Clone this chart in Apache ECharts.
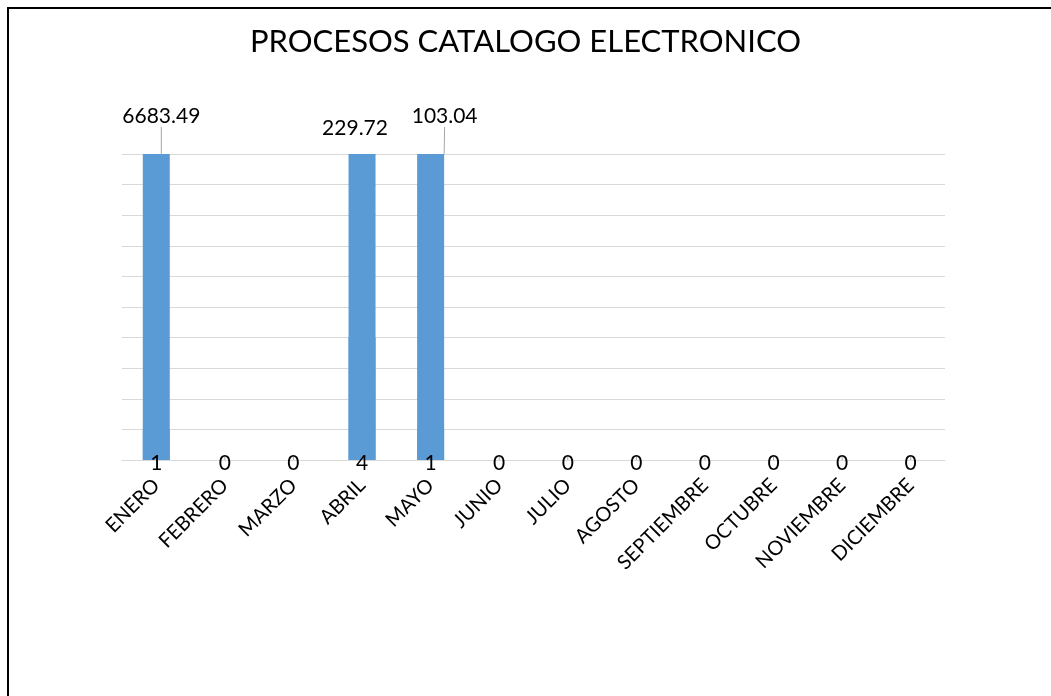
<!DOCTYPE html>
<html>
<head>
<meta charset="utf-8">
<script src="https://cdn.jsdelivr.net/npm/echarts@6/dist/echarts.min.js"></script>
<style>
    html, body { margin: 0; padding: 0; background: #fff; }
    #main { width: 1051px; height: 696px; }
    #frame { position: absolute; left: 7px; top: 7px; width: 1100px; height: 760px;
        border-top: 2px solid #000; border-left: 2px solid #000; pointer-events: none; }
</style>
</head>
<body>
<div id="main"></div>
<div id="frame"></div>
<script>
// meses
var meses = ['ENERO', 'FEBRERO', 'MARZO', 'ABRIL', 'MAYO', 'JUNIO', 'JULIO', 'AGOSTO',
    'SEPTIEMBRE', 'OCTUBRE', 'NOVIEMBRE', 'DICIEMBRE'];
// monto de los procesos (barras recortadas por el eje)
var montos = [6683.49, 0, 0, 229.72, 103.04, 0, 0, 0, 0, 0, 0, 0];
// numero de procesos
var procesos = [1, 0, 0, 4, 1, 0, 0, 0, 0, 0, 0, 0];

var fuente = 'Lato, "Open Sans", sans-serif';
var azul = '#5b9bd5';

var myChart = echarts.init(document.getElementById('main'));

var option = {
    animation: false,
    title: {
        text: 'PROCESOS CATALOGO ELECTRONICO',
        left: 'center',
        top: 21,
        textStyle: { fontFamily: fuente, fontSize: 31, fontWeight: 'normal', color: '#000' }
    },
    grid: { left: 122, right: 106, top: 154, bottom: 236 },
    xAxis: {
        type: 'category',
        data: meses,
        axisLine: { show: true, lineStyle: { color: '#d9d9d9' } },
        axisTick: { show: false },
        axisLabel: { rotate: 45, interval: 0, margin: 22, color: '#000', fontFamily: fuente, fontSize: 20 }
    },
    yAxis: {
        type: 'value',
        min: 0,
        max: 10,
        interval: 1,
        axisLabel: { show: false },
        axisLine: { show: false },
        axisTick: { show: false },
        splitLine: { lineStyle: { color: '#d9d9d9', width: 1 } }
    },
    series: [{
        name: 'Monto',
        type: 'bar',
        barWidth: 27,
        barGap: '-100%',
        clip: true,
        itemStyle: { color: azul },
        data: montos.map(function (v, i) {
            // la etiqueta de abril queda cerca de la barra, sin linea guia
            return i === 3 ? { value: v, labelLine: { show: false } } : v;
        }),
        label: {
            show: true,
            position: 'top',
            distance: 4,
            color: '#000',
            fontFamily: fuente,
            fontSize: 21,
            formatter: function (p) {
                return p.value ? p.value.toFixed(2) : '';
            }
        },
        labelLine: { show: true, lineStyle: { color: '#a6a6a6', width: 1 } },
        labelLayout: function (p) {
            if (p.dataIndex === 0) return { dx: 5, dy: -23 };
            if (p.dataIndex === 3) return { dx: -7, dy: -11 };
            if (p.dataIndex === 4) return { dx: 14, dy: -23 };
            return {};
        }
    }, {
        name: 'Procesos',
        type: 'bar',
        barWidth: 27,
        barGap: '-100%',
        itemStyle: { color: azul },
        data: procesos,
        label: {
            show: true,
            position: 'bottom',
            distance: -8,
            lineHeight: 22,
            color: '#000',
            fontFamily: fuente,
            fontSize: 21
        },
        z: 3
    }]
};

myChart.setOption(option);
</script>
</body>
</html>
